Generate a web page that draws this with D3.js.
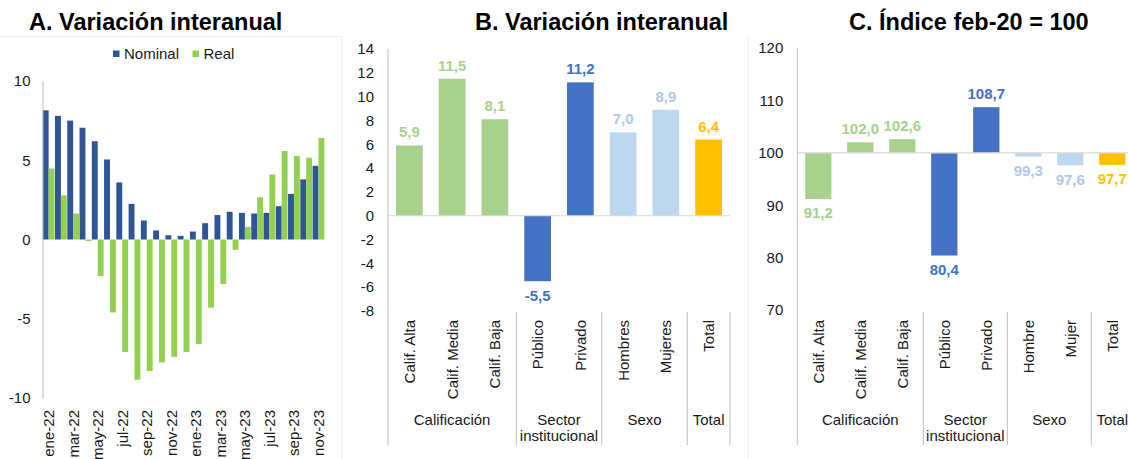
<!DOCTYPE html>
<html>
<head>
<meta charset="utf-8">
<script src="https://cdn.jsdelivr.net/npm/d3@7"></script>
<style>
  body { margin: 0; background: #fff; }
  svg { display: block; font-family: "Liberation Sans", Arial, sans-serif; }
</style>
</head>
<body>
<svg id="chart" width="1128" height="459"></svg>
<script>
// ---------- DATA ----------
const monthsA = ["ene-22","feb-22","mar-22","abr-22","may-22","jun-22","jul-22","ago-22","sep-22","oct-22","nov-22","dic-22",
                 "ene-23","feb-23","mar-23","abr-23","may-23","jun-23","jul-23","ago-23","sep-23","oct-23","nov-23"];
const nominalA = [8.15,7.8,7.5,7.05,6.2,5.05,3.6,2.25,1.2,0.57,0.27,0.23,0.5,1.03,1.54,1.75,1.68,1.64,1.68,2.1,2.88,3.79,4.65];
const realA    = [4.48,2.78,1.64,-0.1,-2.3,-4.6,-7.1,-8.85,-8.3,-7.75,-7.4,-7.1,-6.6,-4.3,-2.8,-0.65,0.8,2.67,4.1,5.58,5.26,5.16,6.4];
const seriesA = ["Nominal","Real"];
const ticksA = [-10,-5,0,5,10];

const catsB = ["Calif. Alta","Calif. Media","Calif. Baja","Público","Privado","Hombres","Mujeres","Total"];
const valuesB = [5.9,11.5,8.1,-5.5,11.2,7.0,8.9,6.4];
const ticksB = [-8,-6,-4,-2,0,2,4,6,8,10,12,14];

const catsC = ["Calif. Alta","Calif. Media","Calif. Baja","Público","Privado","Hombre","Mujer","Total"];
const valuesC = [91.2,102.0,102.6,80.4,108.7,99.3,97.6,97.7];
const ticksC = [70,80,90,100,110,120];

const groupNames = ["Calificación","Sector institucional","Sexo","Total"];
const groupSizes = [3,2,2,1];
const catGroup = [0,0,0,1,1,2,2,3];

const titles = ["A. Variación interanual","B. Variación interanual","C. Índice feb-20 = 100"];

// ---------- STYLE ----------
const colA = {Nominal:"#2F5597", Real:"#92D050"};
const barCol = ["#A9D18E","#4472C4","#BDD7EE","#FFC000"];
const lblCol = ["#A9D18E","#4472C4","#B4C7E7","#FFC000"];
const axisCol = "#BFBFBF";
const textCol = "#1a1a1a";
const fmt = v => d3.format(".1f")(v).replace(".", ",").replace("−","-");

const svg = d3.select("#chart");
svg.append("rect").attr("width",1128).attr("height",459).attr("fill","#fff");

// faint panel borders
svg.append("line").attr("x1",0).attr("x2",341).attr("y1",36.5).attr("y2",36.5).attr("stroke","#EFEFEF");
svg.append("line").attr("x1",341.5).attr("x2",341.5).attr("y1",36).attr("y2",459).attr("stroke","#EFEFEF");
svg.append("line").attr("x1",748.5).attr("x2",748.5).attr("y1",36).attr("y2",459).attr("stroke","#EFEFEF");

// titles
const titleX = [29, 475, 849];
titles.forEach((t,i) => {
  svg.append("text").attr("x",titleX[i]).attr("y",30).attr("font-size",23.5).attr("font-weight","bold")
     .attr("fill","#000").text(t);
});

// ---------- PANEL A ----------
(function(){
  const x = d3.scaleBand().domain(monthsA).range([42.5, 324.6]).paddingInner(0.04).paddingOuter(0.02);
  const xs = d3.scaleBand().domain(seriesA).range([0, x.bandwidth()]);
  const y = d3.scaleLinear().domain([-10,10]).range([398, 81]);
  const g = svg.append("g");

  const data = monthsA.map((m,i) => ({m, Nominal: nominalA[i], Real: realA[i]}));
  seriesA.forEach(s => {
    g.selectAll(null).data(data).enter().append("rect")
      .attr("x", d => x(d.m) + xs(s))
      .attr("width", xs.bandwidth())
      .attr("y", d => y(Math.max(0, d[s])))
      .attr("height", d => Math.abs(y(d[s]) - y(0)))
      .attr("fill", colA[s]);
  });

  const ax = g.append("g").attr("transform","translate(42.5,0)")
    .call(d3.axisLeft(y).tickValues(ticksA).tickSize(0).tickPadding(12).tickFormat(d => String(d)));
  ax.select(".domain").attr("stroke", axisCol);
  ax.selectAll("text").attr("font-size",15).attr("fill",textCol).attr("font-family","Liberation Sans, Arial, sans-serif");

  // x labels every other month
  g.selectAll(null).data(monthsA.filter((m,i) => i % 2 === 0)).enter().append("text")
    .attr("transform", d => `translate(${x(d) + x.bandwidth()/2},410) rotate(-90)`)
    .attr("text-anchor","end").attr("dominant-baseline","central")
    .attr("font-size",15).attr("fill",textCol).text(d => d);

  // legend
  const lg = g.append("g");
  const legX = [113, 192.5];
  seriesA.forEach((s,i) => {
    lg.append("rect").attr("x",legX[i]).attr("y",50.5).attr("width",6.5).attr("height",6.5).attr("fill",colA[s]);
    lg.append("text").attr("x",legX[i]+11).attr("y",59).attr("font-size",15).attr("fill",textCol).text(s);
  });
})();

// ---------- PANELS B & C (shared layout) ----------
function catPanel(opts){
  const {cats, values, ticks, x0, x1, yDomain, yRange, base, fmtTick} = opts;
  const g = svg.append("g");
  const x = d3.scaleBand().domain(d3.range(cats.length)).range([x0, x1]).paddingInner(0.375).paddingOuter(0.1875);
  const y = d3.scaleLinear().domain(yDomain).range(yRange);
  const step = x.step();

  // bars
  g.selectAll(null).data(values).enter().append("rect")
    .attr("x", (d,i) => x(i))
    .attr("width", x.bandwidth())
    .attr("y", d => y(Math.max(base, d)))
    .attr("height", d => Math.abs(y(d) - y(base)))
    .attr("fill", (d,i) => barCol[catGroup[i]]);

  // base line
  g.append("line").attr("x1",x0).attr("x2",Math.min(x1,1128)).attr("y1",y(base)).attr("y2",y(base))
    .attr("stroke","#D9D9D9").attr("stroke-width",1.2);

  // y axis
  const ax = g.append("g").attr("transform",`translate(${x0},0)`)
    .call(d3.axisLeft(y).tickValues(ticks).tickSize(0).tickPadding(14).tickFormat(d => String(d)));
  ax.select(".domain").remove();
  ax.selectAll("text").attr("font-size",15).attr("fill",textCol).attr("font-family","Liberation Sans, Arial, sans-serif");
  g.append("line").attr("x1",x0).attr("x2",x0).attr("y1",yRange[1]).attr("y2",445).attr("stroke",axisCol);

  // value labels
  g.selectAll(null).data(values).enter().append("text")
    .attr("x", (d,i) => x(i) + x.bandwidth()/2)
    .attr("y", d => d >= base ? y(d) - 8 : y(d) + 19.5)
    .attr("text-anchor","middle").attr("font-size",15).attr("font-weight","bold")
    .attr("fill", (d,i) => lblCol[catGroup[i]])
    .text(d => fmt(d));

  // category labels
  g.selectAll(null).data(cats).enter().append("text")
    .attr("transform", (d,i) => `translate(${x(i) + x.bandwidth()/2},320) rotate(-90)`)
    .attr("text-anchor","end").attr("dominant-baseline","central")
    .attr("font-size",15).attr("fill",textCol).text(d => d);

  // group separators and labels
  let start = 0;
  groupSizes.forEach((n,gi) => {
    const gx0 = x0 + start*step, gx1 = x0 + (start+n)*step;
    g.append("line").attr("x1",gx1).attr("x2",gx1).attr("y1",312).attr("y2",445).attr("stroke",axisCol);
    const words = groupNames[gi].split(" ");
    const t = g.append("text").attr("x",(gx0+gx1)/2).attr("y",425).attr("text-anchor","middle")
      .attr("font-size",15).attr("fill",textCol);
    words.forEach((w,wi) => {
      t.append("tspan").attr("x",(gx0+gx1)/2).attr("dy", wi === 0 ? 0 : 16).text(w);
    });
    start += n;
  });
}

catPanel({cats: catsB, values: valuesB, ticks: ticksB, x0: 388, x1: 730, yDomain: [-8,14], yRange: [311,49], base: 0});
catPanel({cats: catsC, values: valuesC, ticks: ticksC, x0: 797.3, x1: 1133.3, yDomain: [70,120], yRange: [310,48], base: 100});
</script>
</body>
</html>
